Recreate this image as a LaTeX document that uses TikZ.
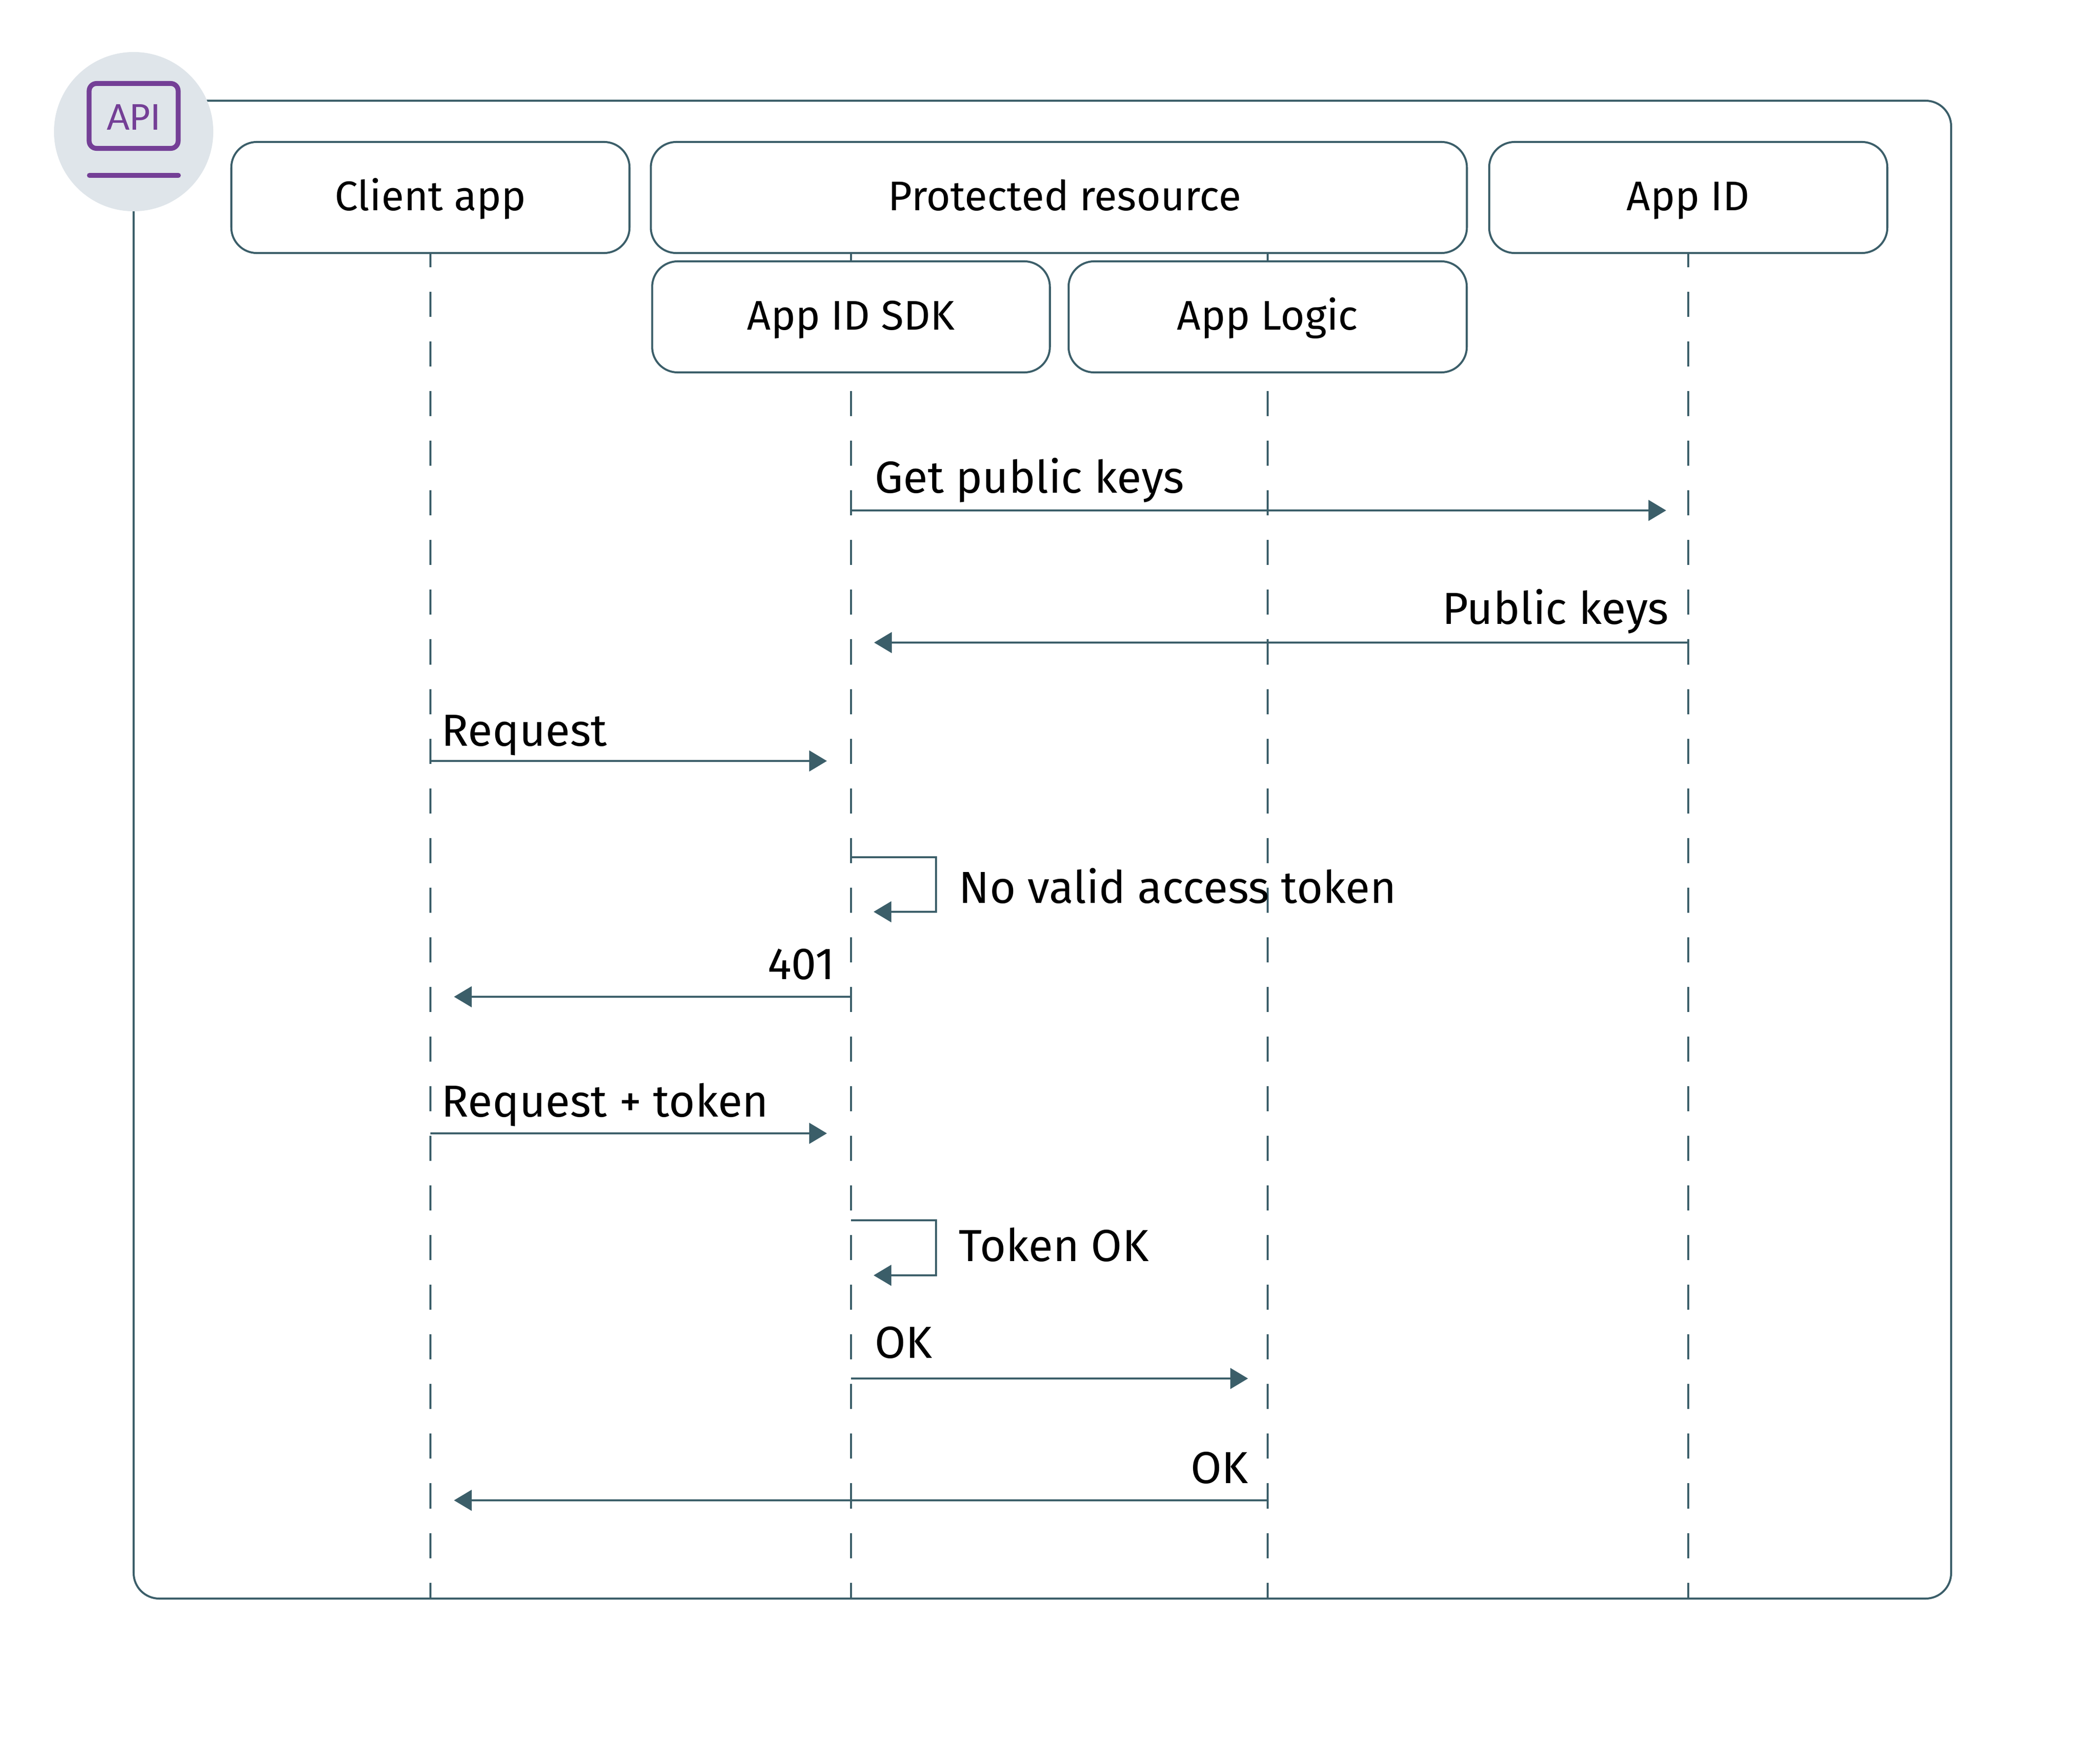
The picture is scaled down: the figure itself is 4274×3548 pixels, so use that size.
\documentclass[tikz,border=0pt]{standalone}
\usepackage{fontspec}
\setmainfont{Fira Sans}
\newfontfamily\apifont{Carlito}
\usetikzlibrary{arrows.meta}
\definecolor{linecol}{HTML}{3B5E69}
\definecolor{badgecol}{HTML}{DFE5EA}
\definecolor{apicol}{HTML}{743F96}
\tikzset{
	frameline/.style={draw=linecol, line width=1.15pt, rounded corners=0.52cm},
	actor/.style={frameline, fill=white, minimum height=2.26cm, text height=0.59cm, text depth=0.07cm, font=\fontsize{24}{28}\selectfont},
	lifeline/.style={draw=linecol, line width=1.15pt, dash pattern=on 0.51cm off 0.5cm},
	msg/.style={draw=linecol, line width=1.15pt, -{Triangle[length=0.36cm, width=0.42cm]}},
	msgtext/.style={inner sep=0pt, font=\fontsize{26}{30}\selectfont},
}
\begin{document}
\begin{tikzpicture}[x=0.01cm, y=-0.01cm]
		%%%%% FRAME %%%%%
		\useasboundingbox (0, 0) rectangle (4274, 3548);
		\draw[frameline] (272, 205) rectangle (3971, 3254);
		
		%%%%% LIFELINES %%%%%
		\foreach \name/\xpos in {client/876, sdk/1732, logic/2580, appid/3436} {
			\coordinate (\name top) at (\xpos, 493);
			\coordinate (\name bot) at (\xpos, 3254);
			\draw[lifeline] (\name top) -- (\name bot);
		}
		
		%%%%% BOXES %%%%%
		\node[actor, minimum width=8.1cm] (clientbox) at (876, 402) {Client app};
		\node[actor, minimum width=16.6cm] (resourcebox) at (2155, 402) {\hspace*{0.24cm}Protected resource};
		\node[actor, minimum width=8.1cm] (appidbox) at (3436, 402) {App ID};
		\node[actor, minimum width=8.09cm] (sdkbox) at (1732, 645) {App ID SDK};
		\node[actor, minimum width=8.1cm] (logicbox) at (2580, 645) {App Logic};
		
		%%%%% BADGE %%%%%
		\node[circle, fill=badgecol, minimum size=3.24cm] (badge) at (272, 268) {};
		\node[draw=apicol, line width=0.1cm, rounded corners=0.15cm, minimum width=1.81cm, minimum height=1.32cm, inner sep=0pt, text=apicol, text height=0.56cm, text depth=0cm, font=\apifont\fontsize{23}{28}\selectfont] (apiicon) at (272, 236) {API};
		\coordinate (barleft) at (182, 357);
		\coordinate (barright) at (363, 357);
		\draw[apicol, line width=0.1cm, line cap=round] (barleft) -- (barright);
		
		%%%%% MESSAGES %%%%%
		\coordinate (keysfrom) at (1732, 1039);
		\coordinate (keysto) at (3391, 1039);
		\draw[msg] (keysfrom) -- (keysto);
		\node[msgtext, anchor=base west] (keyslabel) at (1780, 1003) {Get public keys};
		
		\coordinate (pubfrom) at (3436, 1308);
		\coordinate (pubto) at (1779, 1308);
		\draw[msg] (pubfrom) -- (pubto);
		\node[msgtext, anchor=base east] (publabel) at (3397, 1270) {Public keys};
		
		\coordinate (reqfrom) at (876, 1549);
		\coordinate (reqto) at (1683, 1549);
		\draw[msg] (reqfrom) -- (reqto);
		\node[msgtext, anchor=base west] (reqlabel) at (898, 1518) {Request};
		
		\coordinate (novalidtop) at (1732, 1745);
		\coordinate (novalidright) at (1905, 1856);
		\coordinate (novalidend) at (1778, 1856);
		\draw[msg] (novalidtop) -| (novalidright) -- (novalidend);
		\node[msgtext, anchor=base west] (novalidlabel) at (1951, 1838) {No valid access token};
		
		\coordinate (denyfrom) at (1732, 2029);
		\coordinate (denyto) at (924, 2029);
		\draw[msg] (denyfrom) -- (denyto);
		\node[msgtext, anchor=base east] (denylabel) at (1700, 1993) {401};
		
		\coordinate (retryfrom) at (876, 2307);
		\coordinate (retryto) at (1683, 2307);
		\draw[msg] (retryfrom) -- (retryto);
		\node[msgtext, anchor=base west] (retrylabel) at (898, 2273) {Request + token};
		
		\coordinate (tokentop) at (1732, 2484);
		\coordinate (tokenright) at (1905, 2596);
		\coordinate (tokenend) at (1778, 2596);
		\draw[msg] (tokentop) -| (tokenright) -- (tokenend);
		\node[msgtext, anchor=base west] (tokenlabel) at (1951, 2567) {Token OK};
		
		\coordinate (passfrom) at (1732, 2806);
		\coordinate (passto) at (2540, 2806);
		\draw[msg] (passfrom) -- (passto);
		\node[msgtext, anchor=base west] (passlabel) at (1780, 2764) {OK};
		
		\coordinate (donefrom) at (2580, 3054);
		\coordinate (doneto) at (924, 3054);
		\draw[msg] (donefrom) -- (doneto);
		\node[msgtext, anchor=base east] (donelabel) at (2541, 3019) {OK};
\end{tikzpicture}
\end{document}
